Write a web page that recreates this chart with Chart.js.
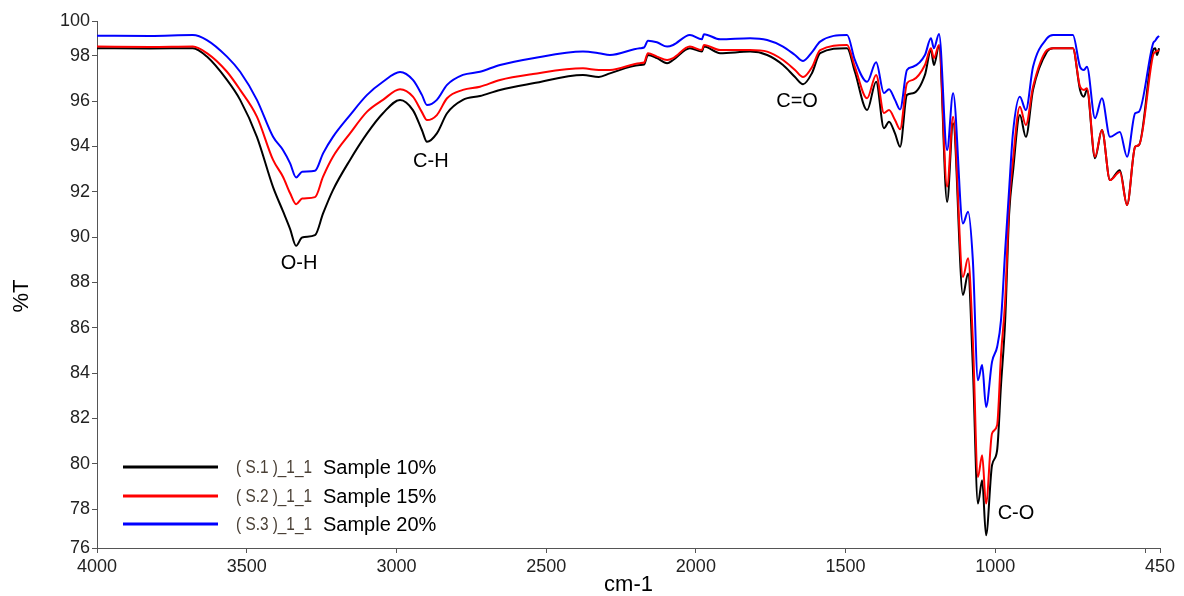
<!DOCTYPE html>
<html>
<head>
<meta charset="utf-8">
<script src="https://cdn.jsdelivr.net/npm/chart.js@4.4.1/dist/chart.umd.min.js"></script>
<style>
  html, body { margin: 0; padding: 0; background: #fff; }
</style>
</head>
<body>
<canvas id="ftir" width="1184" height="596"></canvas>
<script>
// wavenumber (cm-1)
const wavenumbers = [4000, 3823, 3680, 3633, 3566, 3522, 3466, 3412, 3379, 3355, 3335, 3315, 3272, 3245, 3212, 3155, 3098, 3045, 2988, 2945,
  2915, 2898, 2865, 2831, 2778, 2721, 2654, 2544, 2377, 2324, 2287, 2187, 2173, 2160, 2130, 2096, 2076, 2020, 1980, 1973,
  1919, 1819, 1762, 1709, 1669, 1642, 1612, 1585, 1495, 1469, 1428, 1398, 1372, 1355, 1335, 1318, 1295, 1275, 1235, 1215,
  1205, 1188, 1161, 1141, 1108, 1091, 1075, 1058, 1044, 1031, 1011, 994, 981, 967, 954, 941, 918, 898, 874, 827,
  807, 741, 717, 704, 694, 667, 644, 617, 584, 560, 533, 520, 473, 466, 460, 453];

// %T, Sample 10%
const s1 = [98.33, 98.32, 98.33, 97.96, 96.93, 96.05, 94.42, 92.20, 91.14, 90.35, 89.61, 89.98, 90.08, 91.04, 92.07, 93.40, 94.57, 95.46, 96.05, 95.60,
  94.72, 94.20, 94.57, 95.46, 96.05, 96.22, 96.49, 96.78, 97.15, 97.06, 97.22, 97.59, 97.61, 98.03, 97.89, 97.67, 97.81, 98.33, 98.18, 98.40,
  98.11, 98.18, 98.03, 97.59, 97.06, 96.74, 97.24, 98.11, 98.33, 97.29, 95.60, 96.85, 94.80, 95.09, 94.57, 93.98, 96.27, 96.34, 97.15, 98.25,
  97.59, 98.40, 91.55, 95.02, 87.44, 88.39, 84.26, 78.24, 79.27, 76.84, 79.93, 80.59, 83.46, 86.33, 90.97, 92.87, 95.38, 94.42, 96.49, 98.18,
  98.33, 98.33, 96.49, 96.19, 96.49, 93.47, 94.72, 92.51, 92.95, 91.41, 93.98, 94.06, 98.25, 98.33, 98.03, 98.33];

// %T, Sample 15%
const s2 = [98.40, 98.38, 98.40, 98.11, 97.29, 96.49, 95.31, 93.40, 92.66, 91.93, 91.45, 91.70, 91.76, 92.66, 93.54, 94.57, 95.53, 96.05, 96.52, 96.19,
  95.51, 95.16, 95.38, 96.12, 96.49, 96.63, 96.93, 97.19, 97.44, 97.37, 97.37, 97.67, 97.70, 98.11, 97.96, 97.81, 97.89, 98.40, 98.25, 98.47,
  98.25, 98.25, 98.18, 97.81, 97.37, 97.06, 97.50, 98.25, 98.47, 97.51, 96.12, 97.15, 95.47, 95.60, 95.16, 94.75, 96.78, 96.93, 97.59, 98.33,
  97.89, 98.47, 92.22, 95.31, 88.24, 89.06, 85.45, 79.41, 80.37, 78.24, 81.33, 81.70, 84.79, 87.21, 91.41, 93.40, 95.75, 94.94, 96.63, 98.25,
  98.33, 98.33, 96.63, 96.49, 96.56, 93.54, 94.72, 92.51, 92.87, 91.41, 93.98, 94.06, 98.03, 98.16, 98.20, 98.25];

// %T, Sample 20%
const s3 = [98.88, 98.87, 98.91, 98.69, 97.96, 97.29, 96.05, 94.42, 93.84, 93.25, 92.63, 92.88, 92.92, 93.69, 94.42, 95.38, 96.27, 96.85, 97.28, 96.93,
  96.27, 95.82, 96.05, 96.71, 97.15, 97.29, 97.59, 97.89, 98.18, 98.11, 98.03, 98.33, 98.36, 98.66, 98.59, 98.40, 98.47, 98.91, 98.72, 98.95,
  98.72, 98.77, 98.69, 98.40, 98.03, 97.77, 98.16, 98.62, 98.91, 97.81, 96.85, 97.71, 96.35, 96.52, 96.05, 95.63, 97.37, 97.51, 98.03, 98.77,
  98.33, 98.96, 93.84, 96.34, 90.60, 91.11, 88.98, 83.68, 84.35, 82.50, 84.49, 85.15, 86.33, 89.42, 92.07, 94.59, 96.19, 95.60, 97.51, 98.77,
  98.91, 98.91, 97.51, 97.37, 97.51, 95.24, 96.12, 94.42, 94.63, 93.54, 95.46, 95.53, 98.55, 98.66, 98.78, 98.87];

const seriesIds = ['( S.1 )_1_1', '( S.2 )_1_1', '( S.3 )_1_1'];
const seriesNames = ['Sample 10%', 'Sample 15%', 'Sample 20%'];
const seriesColors = ['#000000', '#ff0000', '#0000ff'];

const xTicks = [4000, 3500, 3000, 2500, 2000, 1500, 1000, 500, 450];
const xTickLabels = ['4000', '3500', '3000', '2500', '2000', '1500', '1000', '', '450'];
const yTicks = [76.28, 78, 80, 82, 84, 86, 88, 90, 92, 94, 96, 98, 99.53];
const yTickLabels = ['76', '78', '80', '82', '84', '86', '88', '90', '92', '94', '96', '98', '100'];

const peakLabels = ['O-H', 'C-H', 'C=O', 'C-O'];
const peakX = [3325, 2885, 1662, 931];
const peakY = [88.85, 93.32, 96.0, 77.81];

const FONT = '"Liberation Sans", Arial, sans-serif';
const AXIS = '#555';

const toPoints = vals => wavenumbers.map((x, i) => ({ x: x, y: vals[i] }));

// peak names, axis titles and the legend box
const extras = {
  id: 'extras',
  afterDatasetsDraw(chart) {
    const { ctx, chartArea, scales } = chart;
    ctx.save();
    ctx.fillStyle = '#000';
    ctx.font = '20px ' + FONT;
    ctx.textAlign = 'center';
    ctx.textBaseline = 'middle';
    peakLabels.forEach((t, i) => {
      ctx.fillText(t, scales.x.getPixelForValue(peakX[i]), scales.y.getPixelForValue(peakY[i]));
    });

    // axis titles
    ctx.font = '22px ' + FONT;
    ctx.fillText('cm-1', (chartArea.left + chartArea.right) / 2, 585);
    ctx.save();
    ctx.translate(22, 296);
    ctx.rotate(-Math.PI / 2);
    ctx.fillText('%T', 0, 0);
    ctx.restore();

    // legend
    const rows = [467, 496, 524];
    seriesIds.forEach((id, i) => {
      const y = rows[i];
      ctx.strokeStyle = seriesColors[i];
      ctx.lineWidth = 3;
      ctx.beginPath();
      ctx.moveTo(chartArea.left + 26, y);
      ctx.lineTo(chartArea.left + 121, y);
      ctx.stroke();

      ctx.textAlign = 'left';
      ctx.font = '19px ' + FONT;
      ctx.fillStyle = '#4a4036';
      const w = ctx.measureText(id).width;
      ctx.save();
      ctx.translate(chartArea.left + 139, y + 1);
      ctx.scale(76 / w, 1);
      ctx.fillText(id, 0, 0);
      ctx.restore();

      ctx.font = '20px ' + FONT;
      ctx.fillStyle = '#000';
      ctx.fillText(seriesNames[i], chartArea.left + 226, y + 1);
    });
    ctx.restore();
  }
};

new Chart(document.getElementById('ftir'), {
  type: 'line',
  data: {
    datasets: [
      { label: seriesNames[0], data: toPoints(s1), borderColor: seriesColors[0], order: 3 },
      { label: seriesNames[1], data: toPoints(s2), borderColor: seriesColors[1], order: 2 },
      { label: seriesNames[2], data: toPoints(s3), borderColor: seriesColors[2], order: 1 }
    ]
  },
  options: {
    responsive: false,
    animation: false,
    devicePixelRatio: 1,
    datasets: {
      line: {
        borderWidth: 2,
        pointRadius: 0,
        fill: false,
        cubicInterpolationMode: 'monotone'
      }
    },
    layout: { padding: { top: 21, right: 24, bottom: 0, left: 0 } },
    scales: {
      x: {
        type: 'linear',
        reverse: true,
        min: 450,
        max: 4000,
        afterFit: s => { s.height = 48; },
        afterBuildTicks: s => { s.ticks = xTicks.map(v => ({ value: v })); },
        grid: { display: true, drawOnChartArea: false, tickLength: 5, color: AXIS },
        border: { display: true, color: AXIS, width: 1 },
        ticks: {
          autoSkip: false,
          maxRotation: 0,
          padding: 3,
          color: '#222',
          font: { family: FONT, size: 18 },
          callback: (v, i) => xTickLabels[i]
        }
      },
      y: {
        min: 76.28,
        max: 99.53,
        afterFit: s => { s.width = 97; },
        afterBuildTicks: s => { s.ticks = yTicks.map(v => ({ value: v })); },
        grid: { display: true, drawOnChartArea: false, tickLength: 5, color: AXIS },
        border: { display: true, color: AXIS, width: 1 },
        ticks: {
          autoSkip: false,
          padding: 2,
          color: '#222',
          font: { family: FONT, size: 18 },
          callback: (v, i) => yTickLabels[i]
        }
      }
    },
    plugins: {
      legend: { display: false },
      tooltip: { enabled: false }
    }
  },
  plugins: [extras]
});
</script>
</body>
</html>
